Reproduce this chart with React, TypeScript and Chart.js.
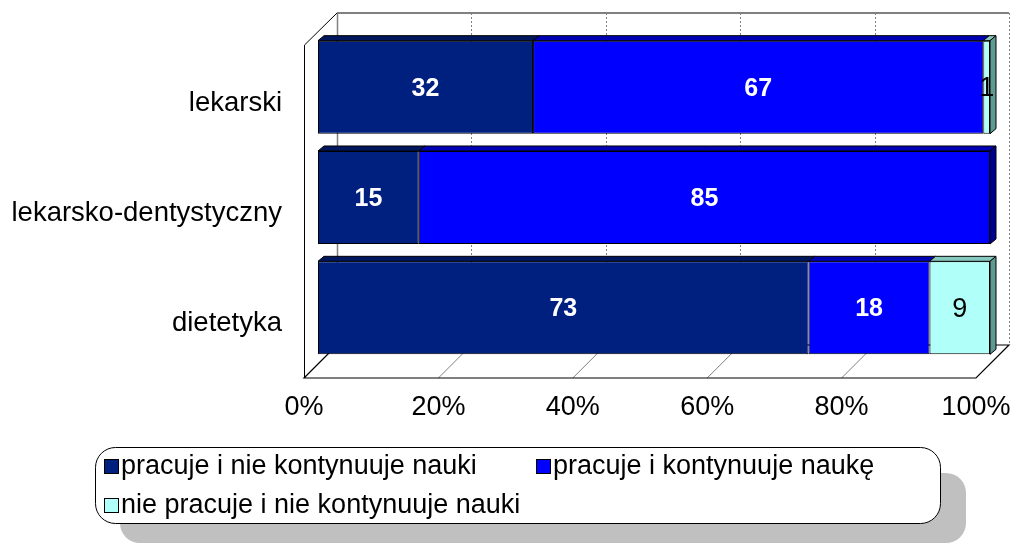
import React, { useEffect, useRef } from "react";
import { Chart, registerables } from "chart.js";

Chart.register(...registerables);

const categories = ["lekarski", "lekarsko-dentystyczny", "dietetyka"];
const seriesNames = [
  "pracuje i nie kontynuuje nauki",
  "pracuje i kontynuuje naukę",
  "nie pracuje i nie kontynuuje nauki",
];
const workNoStudy = [32, 15, 73];
const workStudy = [67, 85, 18];
const noWorkNoStudy = [1, 0, 9];
const xTickValues = [0, 20, 40, 60, 80, 100];

const FONT = "'Liberation Sans', Arial, sans-serif";
const frontColors = ["#002080", "#0000FF", "#B0FFF8"];
const topColors = ["#00175E", "#0000B4", "#86C8BE"];
const sideColors = ["#00104A", "#000090", "#5F9A92"];

const FRONT_DX = -14;
const FRONT_DY = 15;
const BACK_DX = 19;
const BACK_DY = -18;
const BAR_DX = 6;
const BAR_DY = -5;

const threeDPlugin = {
  id: "threeD",
  beforeDatasetsDraw(chart: any) {
    const { ctx, chartArea, scales } = chart;
    const xs = scales.x;
    const L = xs.getPixelForValue(0);
    const R = xs.getPixelForValue(100);
    const B = chartArea.bottom;
    const T = chartArea.top;
    const fy = B + FRONT_DY;
    const by = B + BACK_DY;
    const wallTop = T + BACK_DY - 1;
    ctx.save();
    ctx.fillStyle = "#fff";
    ctx.fillRect(L + BACK_DX, wallTop, R - L, by - wallTop);
    ctx.strokeStyle = "#808080";
    ctx.lineWidth = 1;
    ctx.setLineDash([2, 2]);
    xTickValues.forEach((v) => {
      if (v === 0) return;
      const px = Math.round(xs.getPixelForValue(v) + BACK_DX) + 0.5;
      ctx.beginPath();
      ctx.moveTo(px, wallTop);
      ctx.lineTo(px, by);
      ctx.stroke();
    });
    ctx.setLineDash([]);
    ctx.strokeStyle = "#808080";
    ctx.lineWidth = 2;
    ctx.beginPath();
    ctx.moveTo(L + BACK_DX, wallTop);
    ctx.lineTo(R + BACK_DX, wallTop);
    ctx.stroke();
    ctx.lineWidth = 1.5;
    ctx.beginPath();
    ctx.moveTo(Math.round(L + BACK_DX) + 0.5, wallTop);
    ctx.lineTo(Math.round(L + BACK_DX) + 0.5, by);
    ctx.stroke();
    ctx.strokeStyle = "#000";
    ctx.lineWidth = 1;
    const lx = Math.round(L + FRONT_DX) + 0.5;
    ctx.beginPath();
    ctx.moveTo(lx, fy);
    ctx.lineTo(lx, T + 13);
    ctx.lineTo(L + BACK_DX, wallTop);
    ctx.stroke();
    ctx.beginPath();
    ctx.moveTo(L + FRONT_DX, fy);
    ctx.lineTo(R + FRONT_DX, fy);
    ctx.lineTo(R + BACK_DX, by);
    ctx.lineTo(L + BACK_DX, by);
    ctx.closePath();
    ctx.fillStyle = "#fff";
    ctx.fill();
    ctx.strokeStyle = "#808080";
    xTickValues.forEach((v) => {
      if (v === 0 || v === 100) return;
      const px = xs.getPixelForValue(v);
      ctx.beginPath();
      ctx.moveTo(px + FRONT_DX, fy);
      ctx.lineTo(px + BACK_DX, by);
      ctx.stroke();
    });
    ctx.strokeStyle = "#000";
    ctx.lineWidth = 1.2;
    ctx.beginPath();
    ctx.moveTo(L + BACK_DX, by);
    ctx.lineTo(L + FRONT_DX, fy);
    ctx.lineTo(R + FRONT_DX, fy);
    ctx.lineTo(R + BACK_DX, by);
    ctx.lineTo(L + BACK_DX, by);
    ctx.stroke();
    ctx.restore();
  },
  afterDatasetsDraw(chart: any) {
    const { ctx } = chart;
    const n = chart.data.labels.length;
    const metas = chart.data.datasets.map((_: any, i: number) => chart.getDatasetMeta(i));
    ctx.save();
    ctx.strokeStyle = "#000";
    ctx.lineWidth = 1;
    for (let c = 0; c < n; c++) {
      let last = -1;
      metas.forEach((meta: any, d: number) => {
        const val = chart.data.datasets[d].data[c];
        if (!val) return;
        last = d;
        const el = meta.data[c];
        const { x, y, base, height } = el.getProps(["x", "y", "base", "height"], true);
        const top = y - height / 2;
        const left = Math.min(x, base);
        const right = Math.max(x, base);
        ctx.beginPath();
        ctx.moveTo(left, top);
        ctx.lineTo(right, top);
        ctx.lineTo(right + BAR_DX, top + BAR_DY);
        ctx.lineTo(left + BAR_DX, top + BAR_DY);
        ctx.closePath();
        ctx.fillStyle = topColors[d];
        ctx.fill();
        ctx.stroke();
      });
      if (last >= 0) {
        const el = metas[last].data[c];
        const { x, y, base, height } = el.getProps(["x", "y", "base", "height"], true);
        const top = y - height / 2;
        const bot = y + height / 2;
        const right = Math.max(x, base);
        ctx.beginPath();
        ctx.moveTo(right, top);
        ctx.lineTo(right + BAR_DX, top + BAR_DY);
        ctx.lineTo(right + BAR_DX, bot + BAR_DY);
        ctx.lineTo(right, bot);
        ctx.closePath();
        ctx.fillStyle = sideColors[last];
        ctx.fill();
        ctx.stroke();
      }
    }
    ctx.textAlign = "center";
    ctx.textBaseline = "middle";
    metas.forEach((meta: any, d: number) => {
      meta.data.forEach((el: any, c: number) => {
        const val = chart.data.datasets[d].data[c];
        if (!val) return;
        const { x, y, base } = el.getProps(["x", "y", "base"], true);
        if (d < 2) {
          ctx.font = `bold 25px ${FONT}`;
          ctx.fillStyle = "#fff";
        } else {
          ctx.font = `27px ${FONT}`;
          ctx.fillStyle = "#000";
        }
        ctx.fillText(String(val), (x + base) / 2, y + 1.5);
      });
    });
    ctx.restore();
  },
  afterDraw(chart: any) {
    const { ctx } = chart;
    ctx.save();
    ctx.fillStyle = "#C0C0C0";
    ctx.beginPath();
    ctx.roundRect(120, 473, 846, 70, 20);
    ctx.fill();
    ctx.fillStyle = "#fff";
    ctx.strokeStyle = "#000";
    ctx.lineWidth = 1;
    ctx.beginPath();
    ctx.roundRect(95.5, 447.5, 845, 76, 20);
    ctx.fill();
    ctx.stroke();
    const pos = [
      [104, 466],
      [536, 466],
      [104, 505],
    ];
    ctx.font = `27px ${FONT}`;
    ctx.textBaseline = "middle";
    ctx.textAlign = "left";
    chart.data.datasets.forEach((ds: any, i: number) => {
      const [px, py] = pos[i];
      ctx.fillStyle = ds.backgroundColor;
      ctx.fillRect(px, py - 7, 15, 15);
      ctx.strokeStyle = "#000";
      ctx.strokeRect(px + 0.5, py - 6.5, 14, 14);
      ctx.fillStyle = "#000";
      ctx.fillText(ds.label, px + 17, py + 1);
    });
    ctx.restore();
  },
};

export default function App() {
  const canvasRef = useRef<HTMLCanvasElement>(null);
  useEffect(() => {
    const canvas = canvasRef.current;
    if (!canvas) return;
    const seriesValues = [workNoStudy, workStudy, noWorkNoStudy];
    const chart = new Chart(canvas, {
      type: "bar",
      data: {
        labels: categories,
        datasets: seriesNames.map((name, i) => ({
          label: name,
          data: seriesValues[i],
          backgroundColor: frontColors[i],
          borderColor: "#000",
          borderWidth: 1,
          borderSkipped: false,
          barPercentage: 0.843,
          categoryPercentage: 1,
        })),
      },
      options: {
        indexAxis: "y",
        responsive: false,
        animation: false,
        devicePixelRatio: 1,
        layout: { padding: { left: 0, top: 32, right: 24, bottom: 0 } },
        plugins: {
          legend: { display: false },
          tooltip: { enabled: false },
        },
        scales: {
          x: {
            stacked: true,
            min: 0,
            max: 100,
            afterBuildTicks: (scale: any) => {
              scale.ticks = xTickValues.map((v) => ({ value: v }));
            },
            ticks: {
              callback: (v: any) => v + "%",
              font: { family: FONT, size: 27 },
              color: "#000",
              labelOffset: FRONT_DX,
              padding: 28,
              maxRotation: 0,
              autoSkip: false,
            },
            grid: { display: false, drawTicks: false },
            border: { display: false },
            afterFit: (scale: any) => {
              scale.height = 180;
              scale.paddingLeft = 0;
              scale.paddingRight = 0;
            },
          },
          y: {
            stacked: true,
            ticks: {
              font: { family: FONT, size: 27.5 },
              color: "#000",
              labelOffset: 16,
              padding: 36,
            },
            grid: { display: false, drawTicks: false },
            border: { display: false },
            afterFit: (scale: any) => {
              scale.width = 318;
              scale.paddingTop = 0;
              scale.paddingBottom = 0;
            },
          },
        },
      },
      plugins: [threeDPlugin],
    } as any);
    return () => chart.destroy();
  }, []);
  return (
    <div style={{ position: "absolute", left: 0, top: 0, width: 1014, height: 543, background: "#fff" }}>
      <canvas ref={canvasRef} width={1014} height={543} style={{ display: "block" }} />
    </div>
  );
}
